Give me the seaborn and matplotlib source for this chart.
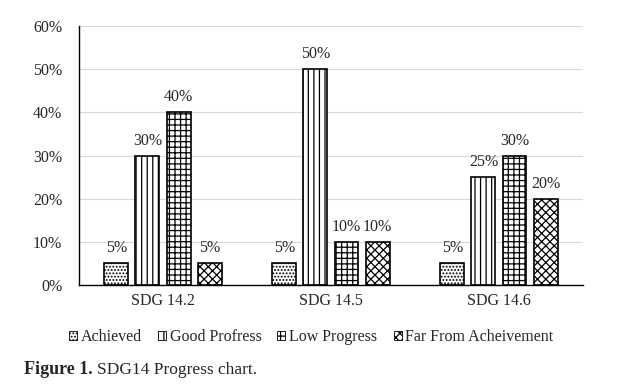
import numpy as np
import pandas as pd
import matplotlib.pyplot as plt
import seaborn as sns
from matplotlib.patches import Patch

goals = ['SDG 14.2', 'SDG 14.5', 'SDG 14.6']
statuses = ['Achieved', 'Good Profress', 'Low Progress', 'Far From Acheivement']
achieved = [5, 5, 5]
good = [30, 50, 25]
low = [40, 10, 30]
far = [5, 10, 20]

hatches = ['.....', '|||', '+++', 'xxxx']

df = pd.DataFrame({
    'goal': goals * 4,
    'status': np.repeat(statuses, 3),
    'value': achieved + good + low + far,
})

sns.set_style('white')
plt.rcParams['font.family'] = ['Liberation Serif', 'DejaVu Serif']
plt.rcParams['hatch.linewidth'] = 0.9

fig = plt.figure(figsize=(6.31, 3.84), dpi=100)
ax = fig.add_axes([0.1252, 0.2578, 0.7987, 0.6745])

sns.barplot(data=df, x='goal', y='value', hue='status', hue_order=statuses,
            order=goals, width=0.74, gap=0.23,
            palette=['white'] * 4, edgecolor='black', linewidth=1.2,
            legend=False, ax=ax)

for cont, h in zip(ax.containers, hatches):
    for p in cont:
        p.set_hatch(h)
    ax.bar_label(cont, labels=[f'{v:.0f}%' for v in cont.datavalues],
                 padding=5, fontsize=11.5)

ax.set_ylim(0, 60)
ax.set_yticks(range(0, 61, 10))
ax.set_yticklabels([f'{t}%' for t in range(0, 61, 10)], fontsize=11.5)
ax.tick_params(axis='x', labelsize=11.5, length=0, pad=6)
ax.tick_params(axis='y', length=0, pad=12)
ax.set_xlabel('')
ax.set_ylabel('')
ax.yaxis.grid(True, color='#d9d9d9', linewidth=0.8)
ax.set_axisbelow(True)
for s in ['top', 'right']:
    ax.spines[s].set_visible(False)
for s in ['left', 'bottom']:
    ax.spines[s].set_color('black')
    ax.spines[s].set_linewidth(1.0)

handles = [Patch(facecolor='white', edgecolor='black', hatch=h, linewidth=0.6)
           for h in hatches]
fig.legend(handles, statuses, loc='center', bbox_to_anchor=(0.493, 0.123),
           ncol=4, frameon=False, fontsize=11.5, handlelength=0.5,
           handleheight=0.5, handletextpad=0.25, columnspacing=1.0)

fig.text(0.038, 0.027, 'Figure 1.', fontsize=13, fontweight='bold')
fig.text(0.154, 0.027, 'SDG14 Progress chart.', fontsize=12.5)

fig.savefig('out.png', dpi=100, facecolor='white')
